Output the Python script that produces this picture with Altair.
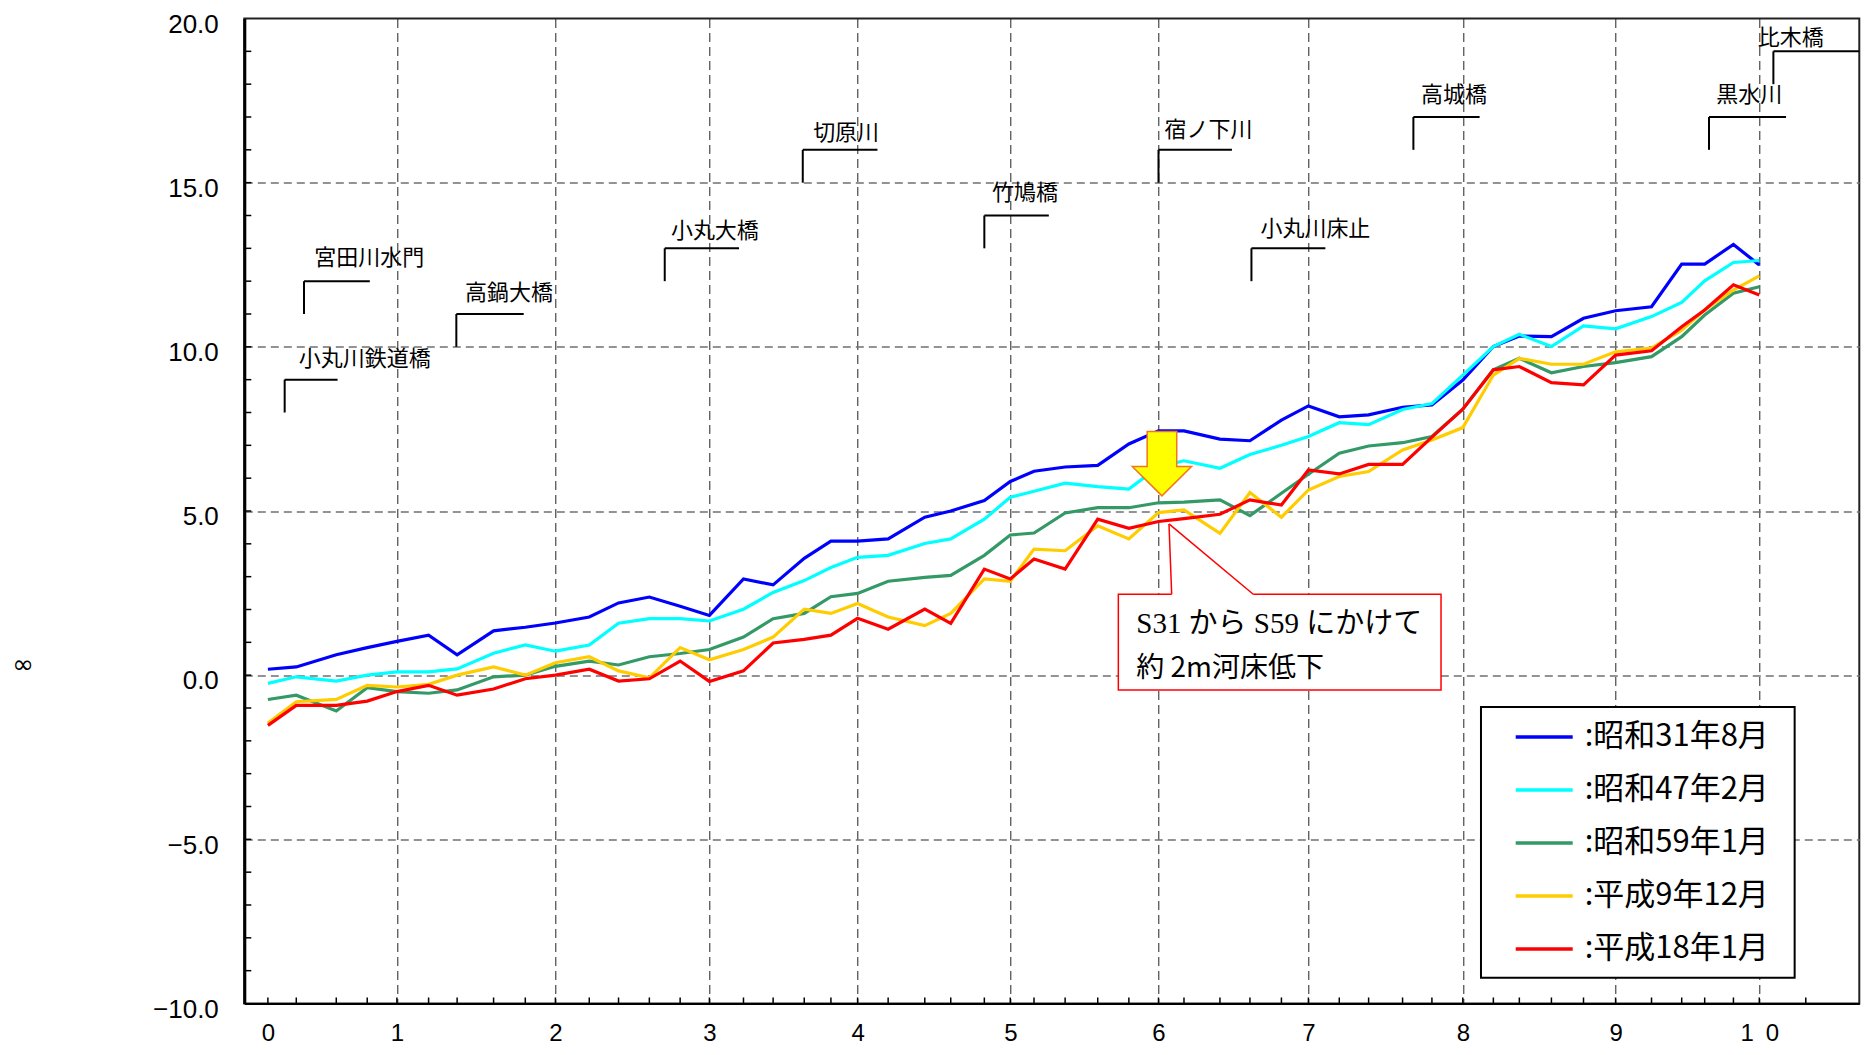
import altair as alt
import pandas as pd

# ---------------- data ----------------
distance_km = [0, 0.22, 0.53, 0.77, 1.0, 1.2, 1.38, 1.61, 1.81, 2.0,
               2.22, 2.41, 2.61, 2.81, 3.0, 3.23, 3.43, 3.64, 3.82, 4.0,
               4.2, 4.44, 4.61, 4.83, 5.0, 5.16, 5.37, 5.59, 5.8, 6.0,
               6.17, 6.41, 6.61, 6.82, 7.0, 7.2, 7.39, 7.61, 7.8, 8.0,
               8.2, 8.37, 8.58, 8.79, 9.0, 9.25, 9.46, 9.62, 9.82, 10.0]

s31_aug = [0.18, 0.25, 0.62, 0.84, 1.03, 1.22, 0.62, 1.35, 1.46, 1.59,
           1.77, 2.20, 2.38, 2.10, 1.82, 2.93, 2.75, 3.56, 4.08, 4.08,
           4.15, 4.81, 5.00, 5.32, 5.90, 6.21, 6.34, 6.39, 7.04, 7.44,
           7.44, 7.19, 7.14, 7.77, 8.20, 7.87, 7.93, 8.16, 8.23, 8.99,
           10.01, 10.33, 10.31, 10.87, 11.10, 11.22, 12.52, 12.52, 13.12, 12.49]

s47_feb = [-0.25, -0.05, -0.18, 0.0, 0.10, 0.10, 0.19, 0.67, 0.92, 0.73,
           0.92, 1.58, 1.72, 1.72, 1.65, 2.01, 2.52, 2.88, 3.28, 3.59,
           3.65, 4.01, 4.15, 4.75, 5.42, 5.60, 5.85, 5.74, 5.67, 6.35,
           6.53, 6.30, 6.72, 7.00, 7.27, 7.69, 7.63, 8.09, 8.27, 9.14,
           10.01, 10.38, 10.01, 10.64, 10.55, 10.92, 11.35, 12.01, 12.57, 12.63]

s59_jan = [-0.74, -0.61, -1.09, -0.38, -0.50, -0.55, -0.45, -0.05, 0.0, 0.27,
           0.43, 0.31, 0.56, 0.66, 0.78, 1.16, 1.72, 1.88, 2.39, 2.49,
           2.86, 2.98, 3.04, 3.65, 4.27, 4.33, 4.94, 5.10, 5.10, 5.25,
           5.27, 5.34, 4.86, 5.54, 6.12, 6.76, 6.98, 7.08, 7.27, 8.10,
           9.30, 9.65, 9.21, 9.40, 9.52, 9.70, 10.31, 10.97, 11.63, 11.83]

h9_dec = [-1.46, -0.81, -0.74, -0.31, -0.36, -0.28, 0.0, 0.25, 0.0, 0.38,
          0.56, 0.13, -0.08, 0.84, 0.47, 0.78, 1.16, 2.01, 1.88, 2.18,
          1.77, 1.51, 1.88, 2.93, 2.86, 3.84, 3.79, 4.55, 4.15, 4.95,
          5.03, 4.32, 5.56, 4.81, 5.64, 6.05, 6.20, 6.86, 7.16, 7.54,
          9.14, 9.65, 9.47, 9.47, 9.85, 9.96, 10.51, 11.12, 11.73, 12.16]

h18_jan = [-1.53, -0.92, -0.92, -0.79, -0.50, -0.31, -0.61, -0.42, -0.11, 0.0,
           0.18, -0.18, -0.11, 0.43, -0.19, 0.13, 0.98, 1.09, 1.22, 1.73,
           1.40, 2.01, 1.58, 3.23, 2.93, 3.54, 3.23, 4.75, 4.47, 4.68,
           4.77, 4.90, 5.34, 5.18, 6.25, 6.13, 6.42, 6.42, 7.25, 8.10,
           9.30, 9.40, 8.91, 8.84, 9.75, 9.88, 10.61, 11.12, 11.89, 11.58]

series_names = ["昭和31年8月", "昭和47年2月", "昭和59年1月", "平成9年12月", "平成18年1月"]
series_colors = ["#0000FF", "#00FFFF", "#339966", "#FFCC00", "#FF0000"]
series_values = [s31_aug, s47_feb, s59_jan, h9_dec, h18_jan]

x_label_values = list(range(0, 11))
x_minor_ticks = distance_km + [10.33]
y_label_values = [-10, -5, 0, 5, 10, 15, 20]
y_minor_ticks = list(range(-9, 20))

station_names = ["小丸川鉄道橋", "宮田川水門", "高鍋大橋", "小丸大橋", "切原川", "竹鳩橋",
                 "宿ノ下川", "小丸川床止", "高城橋", "黒水川", "比木橋"]
station_x = [0.13, 0.28, 1.375, 2.71, 3.63, 4.83, 6.0, 6.62, 7.68, 9.65, 10.10]
station_end_x = [0.54, 0.79, 1.80, 3.20, 4.13, 5.26, 6.49, 7.11, 8.11, 10.19, 10.71]
station_bottom = [8, 11, 10, 12, 15, 13, 15, 12, 16, 16, 18]
station_top = [9, 12, 11, 13, 16, 14, 16, 13, 17, 17, 19]
station_label_x = [0.24, 0.36, 1.43, 2.75, 3.70, 4.88, 6.04, 6.68, 7.73, 9.70, 9.99]
station_label_y = [9.63, 12.72, 11.63, 13.54, 16.52, 14.70, 16.61, 13.58, 17.67, 17.67, 19.42]

callout_lines = ["S31 から S59 にかけて", "約 2m河床低下"]
callout_text_x = [5.85, 5.85]
callout_text_y = [1.56, 0.18]
callout_box_x = [5.729, 7.859]
callout_box_y = [2.464, -0.451]
callout_tip = [6.070, 4.606]
callout_base_x = [6.088, 6.632]

arrow_x = [6.023]
arrow_y = [6.44]

legend_box_x = [8.119, 10.251]
legend_box_y = [-0.969, -9.214]

# ---------------- scales / axes ----------------
W, H = 1615, 985
X_DOMAIN = [-0.18] + list(range(0, 11)) + [10.71]
X_RANGE = [0, 23.6, 152.6, 311.1, 465.1, 613.3, 766.0, 914.2, 1064.1,
           1218.5, 1371.3, 1515.0, W]
xscale = alt.Scale(domain=X_DOMAIN, range=X_RANGE, nice=False, zero=False)
yscale = alt.Scale(domain=[-10, 20], nice=False, zero=False)

x_axis = alt.Axis(
    values=x_label_values, format="d",
    labelExpr="datum.value == 10 ? '1\u20020' : datum.label",
    labelFont="Liberation Sans", labelFontSize=24, labelColor="black",
    labelPadding=18, ticks=False, tickSize=0,
    domainColor="black", domainWidth=2,
    grid=True, gridColor="#222222", gridDash=[9, 5], gridWidth=1,
    gridOpacity={"condition": {"test": "datum.value >= 1 && datum.value <= 10", "value": 1}, "value": 0},
    title=None,
)
y_axis = alt.Axis(
    values=y_label_values, format=".1f",
    labelFont="Liberation Sans", labelFontSize=26, labelColor="black",
    labelPadding=26, labelOffset=5.8, ticks=False, tickSize=0,
    domainColor="black", domainWidth=3,
    grid=True, gridColor="#707070", gridDash=[8, 5], gridWidth=1.5,
    gridOpacity={"condition": {"test": "datum.value > -10 && datum.value < 20", "value": 1}, "value": 0},
    title="∞", titleAngle=0, titleX=-221.6, titleY=646,
    titleFont="DejaVu Sans", titleFontSize=26, titleFontWeight="normal",
    titleAlign="center", titleBaseline="middle", titleColor="black",
)


def X(field):
    return alt.X(field, scale=xscale, axis=x_axis)


def Y(field):
    return alt.Y(field, scale=yscale, axis=y_axis)


color_scale = alt.Scale(domain=series_names, range=series_colors)
legend = alt.Legend(
    orient="none", legendX=1269.4, legendY=688, title=None,
    symbolType="stroke", symbolSize=3249, symbolStrokeWidth=3.5,
    labelFont="Noto Sans CJK JP", labelFontSize=31, labelColor="black",
    labelExpr="':' + datum.label", labelOffset=10, labelLimit=400,
    rowPadding=7, padding=0,
)

layers = []

# legend frame (white box with black border)
legend_box_df = pd.DataFrame({"x": [legend_box_x[0]], "x2": [legend_box_x[1]],
                              "y": [legend_box_y[0]], "y2": [legend_box_y[1]]})
layers.append(
    alt.Chart(legend_box_df).mark_rect(fill="white", stroke="black", strokeWidth=2).encode(
        x=X("x:Q"), x2="x2:Q", y=Y("y:Q"), y2="y2:Q",
    )
)

# inward minor ticks
ytick_df = pd.DataFrame({"t": y_minor_ticks})
layers.append(
    alt.Chart(ytick_df).mark_rule(color="black", strokeWidth=1.5).encode(
        y=Y("t:Q"), x=alt.value(0), x2=alt.value(7),
    )
)
xtick_df = pd.DataFrame({"t": x_minor_ticks})
layers.append(
    alt.Chart(xtick_df).mark_rule(color="black", strokeWidth=1.5).encode(
        x=X("t:Q"), y=alt.value(H), y2=alt.value(H - 6),
    )
)

# station brackets
st_df = pd.DataFrame({"name": station_names, "sx": station_x, "ex": station_end_x,
                      "yb": station_bottom, "yt": station_top,
                      "lx": station_label_x, "ly": station_label_y})
layers.append(
    alt.Chart(st_df).mark_rule(color="black", strokeWidth=2).encode(
        x=X("sx:Q"), y=Y("yb:Q"), y2="yt:Q",
    )
)
layers.append(
    alt.Chart(st_df).mark_rule(color="black", strokeWidth=2).encode(
        x=X("sx:Q"), x2="ex:Q", y=Y("yt:Q"),
    )
)
layers.append(
    alt.Chart(st_df).mark_text(align="left", baseline="middle", font="Noto Sans CJK JP",
                               fontSize=22, color="black").encode(
        x=X("lx:Q"), y=Y("ly:Q"), text="name:N",
    )
)

# series lines (drawn in order: blue first, red last)
for name, vals in zip(series_names, series_values):
    df = pd.DataFrame({"km": distance_km, "elev": vals, "series": name})
    layers.append(
        alt.Chart(df).mark_line(strokeWidth=3.2).encode(
            x=X("km:Q"), y=Y("elev:Q"),
            color=alt.Color("series:N", scale=color_scale, legend=legend),
        )
    )

# down arrow
ARROW = "M-0.46,-1L0.46,-1L0.46,0.09L0.92,0.09L0,1L-0.92,0.09L-0.46,0.09Z"
arrow_df = pd.DataFrame({"x": arrow_x, "y": arrow_y})
layers.append(
    alt.Chart(arrow_df).mark_point(shape=ARROW, size=4134, filled=True, fill="#FFFF00",
                                   stroke="#F07818", strokeWidth=1.5, opacity=1).encode(
        x=X("x:Q"), y=Y("y:Q"),
    )
)

# callout box
box_df = pd.DataFrame({"x": [callout_box_x[0]], "x2": [callout_box_x[1]],
                       "y": [callout_box_y[0]], "y2": [callout_box_y[1]]})
layers.append(
    alt.Chart(box_df).mark_rect(fill="white", stroke="#FF0000", strokeWidth=1.5).encode(
        x=X("x:Q"), x2="x2:Q", y=Y("y:Q"), y2="y2:Q",
    )
)
gap_df = pd.DataFrame({"x": [callout_base_x[0]], "x2": [callout_base_x[1]], "y": [callout_box_y[0]]})
layers.append(
    alt.Chart(gap_df).mark_rule(color="white", strokeWidth=3).encode(
        x=X("x:Q"), x2="x2:Q", y=Y("y:Q"),
    )
)
legs_df = pd.DataFrame({"x": [callout_tip[0]] * 2, "y": [callout_tip[1]] * 2,
                        "x2": callout_base_x, "y2": [callout_box_y[0]] * 2})
layers.append(
    alt.Chart(legs_df).mark_rule(color="#FF0000", strokeWidth=1.5).encode(
        x=X("x:Q"), x2="x2:Q", y=Y("y:Q"), y2="y2:Q",
    )
)
txt1 = pd.DataFrame({"x": [callout_text_x[0]], "y": [callout_text_y[0]], "t": [callout_lines[0]]})
txt2 = pd.DataFrame({"x": [callout_text_x[1]], "y": [callout_text_y[1]], "t": [callout_lines[1]]})
layers.append(
    alt.Chart(txt1).mark_text(align="left", baseline="middle",
                              font="Liberation Serif, Noto Sans CJK JP",
                              fontSize=29, color="black").encode(
        x=X("x:Q"), y=Y("y:Q"), text="t:N",
    )
)
layers.append(
    alt.Chart(txt2).mark_text(align="left", baseline="middle",
                              font="Noto Sans CJK JP",
                              fontSize=28, color="black").encode(
        x=X("x:Q"), y=Y("y:Q"), text="t:N",
    )
)

chart = alt.layer(*layers).properties(
    width=W, height=H,
    autosize=alt.AutoSizeParams(type="none"),
    padding={"left": 236.3, "top": 10.5, "right": 1.5, "bottom": 43},
    background="white",
).configure_view(stroke="#222222", strokeWidth=2)

chart.save("out.html", embed_options={"renderer": "svg", "actions": False})
